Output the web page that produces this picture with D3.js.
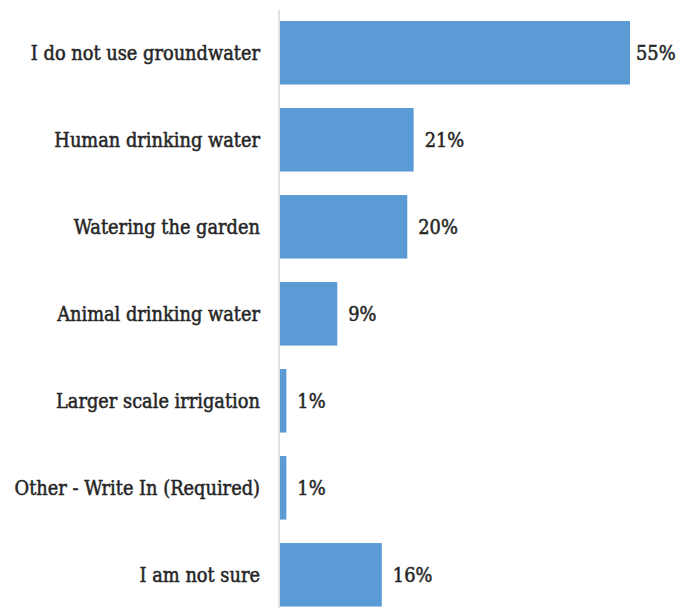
<!DOCTYPE html>
<html>
<head>
<meta charset="utf-8">
<script src="https://cdn.jsdelivr.net/npm/d3@7/dist/d3.min.js"></script>
<style>
  html, body { margin: 0; padding: 0; background: #fff; }
  svg { display: block; }
  text { font-family: "DejaVu Serif Condensed", "DejaVu Serif", serif; font-stretch: condensed; fill: #262626; stroke: #262626; stroke-width: 0.5px; }
</style>
</head>
<body>
<svg id="chart" width="692" height="608"></svg>
<script>
// Survey answers: how respondents use groundwater
const categories = [
  "I do not use groundwater",
  "Human drinking water",
  "Watering the garden",
  "Animal drinking water",
  "Larger scale irrigation",
  "Other - Write In (Required)",
  "I am not sure"
];
const percents = [55, 21, 20, 9, 1, 1, 16];
const valueLabels = ["55%", "21%", "20%", "9%", "1%", "1%", "16%"];

const svg = d3.select("#chart");
const W = 692, H = 608;
const x0 = 280;

const x = d3.scaleLinear().domain([0, 55]).range([x0, 630]);
const y = d3.scaleBand()
  .domain(categories)
  .range([9.3, 618.3])
  .paddingInner(0.27)
  .paddingOuter(0.135);

const rows = categories.map((c, i) => ({ c, v: percents[i], label: valueLabels[i] }));

// bars
svg.append("g").selectAll("rect").data(rows).join("rect")
  .attr("x", x(0))
  .attr("y", d => y(d.c))
  .attr("width", d => x(d.v) - x(0))
  .attr("height", y.bandwidth())
  .attr("fill", "#5b9bd5");

// category axis line
svg.append("line")
  .attr("x1", x0 - 1).attr("x2", x0 - 1)
  .attr("y1", 10).attr("y2", H)
  .attr("stroke", "#d9d9d9").attr("stroke-width", 1.5);

// category labels, right-aligned against the axis
svg.append("g").selectAll("text").data(rows).join("text")
  .attr("x", 260)
  .attr("y", d => y(d.c) + y.bandwidth() / 2)
  .attr("dy", "0.35em")
  .attr("text-anchor", "end")
  .attr("font-size", 19.8)
  .text(d => d.c);

// value labels, kept inside the right edge
svg.append("g").selectAll("text").data(rows).join("text")
  .attr("x", d => Math.min(x(d.v) + 11, 636))
  .attr("y", d => y(d.c) + y.bandwidth() / 2)
  .attr("dy", "0.35em")
  .attr("font-size", 19.8)
  .text(d => d.label);
</script>
</body>
</html>
